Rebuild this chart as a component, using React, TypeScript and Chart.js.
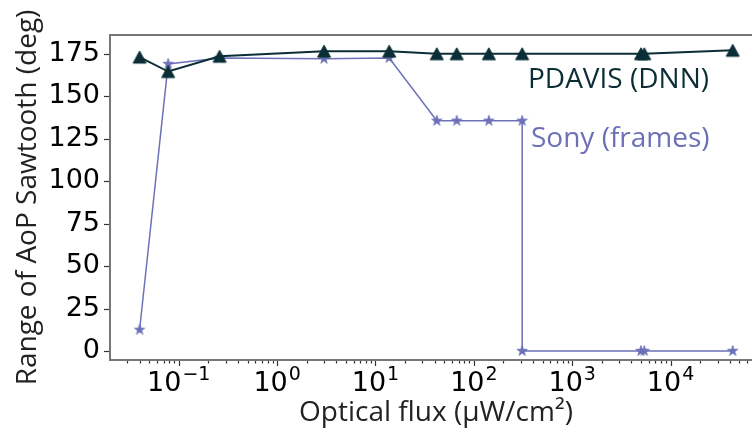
import { useEffect, useRef } from 'react';
import { Chart, registerables } from 'chart.js';

Chart.register(...registerables);

// ---- data ----
const seriesNames = ['PDAVIS (DNN)', 'Sony (frames)'];
const pdavisFlux = [0.04, 0.078, 0.26, 3, 13.8, 42, 67, 142, 310, 5000, 5400, 42800];
const pdavisRange = [173, 164.5, 173.5, 176.5, 176.5, 175, 175, 175, 175, 175, 175, 177];
const sonyFlux = [0.04, 0.078, 0.26, 3, 13.8, 42, 67, 142, 310, 310, 5000, 5400, 42800];
const sonyRange = [12.5, 169, 172.5, 172, 172.5, 135.5, 135.5, 135.5, 135.5, 0, 0, 0, 0];

const yTickValues = [0, 25, 50, 75, 100, 125, 150, 175];
const xMajorTicks = [0.1, 1, 10, 100, 1000, 10000];
const xTickBase = '10';
const xTickExponents = ['−1', '0', '1', '2', '3', '4'];
const xRange = [0.02, 85000];
const yRange = [-5.3, 186];

const xTitle = 'Optical flux (µW/cm²)';
const yTitle = 'Range of AoP Sawtooth (deg)';

const PDAVIS_COLOR = '#0b2e36';
const SONY_COLOR = '#6c70b7';

function minorTicks(): number[] {
  const out: number[] = [];
  for (let e = -2; e <= 4; e++) {
    const d = Math.pow(10, e);
    for (let k = 2; k <= 9; k++) {
      const v = k * d;
      if (v > xRange[0] && v < xRange[1]) out.push(v);
    }
  }
  return out;
}

function makeTriangle(color: string) {
  const c = document.createElement('canvas');
  c.width = 16;
  c.height = 16;
  const g = c.getContext('2d')!;
  g.beginPath();
  g.moveTo(8, 2);
  g.lineTo(14.5, 14);
  g.lineTo(1.5, 14);
  g.closePath();
  g.fillStyle = color;
  g.fill();
  g.strokeStyle = color;
  g.lineWidth = 1;
  g.stroke();
  return c;
}

function makeStar(color: string, R: number) {
  const c = document.createElement('canvas');
  c.width = 14;
  c.height = 14;
  const g = c.getContext('2d')!;
  g.beginPath();
  for (let i = 0; i < 10; i++) {
    const a = -Math.PI / 2 + (i * Math.PI) / 5;
    const r = i % 2 ? R * 0.382 : R;
    const px = 7 + r * Math.cos(a);
    const py = 7 + r * Math.sin(a);
    if (i === 0) g.moveTo(px, py);
    else g.lineTo(px, py);
  }
  g.closePath();
  g.fillStyle = color;
  g.fill();
  g.strokeStyle = color;
  g.lineWidth = 0.8;
  g.stroke();
  return c;
}

const isMajor = (v: number) => xMajorTicks.some((m) => Math.abs(m - v) / m < 1e-6);

const framePlugin = {
  id: 'frameTicksLabels',
  afterDatasetsDraw(chart: any) {
    const { ctx, chartArea: a, scales } = chart;
    ctx.save();
    // spines: left, top, bottom (the right one lies beyond the visible crop)
    ctx.strokeStyle = '#777777';
    ctx.lineWidth = 2;
    ctx.beginPath();
    ctx.moveTo(a.right, a.top);
    ctx.lineTo(a.left, a.top);
    ctx.lineTo(a.left, a.bottom);
    ctx.lineTo(a.right, a.bottom);
    ctx.stroke();
    // tick marks
    ctx.strokeStyle = '#333333';
    ctx.lineWidth = 1.2;
    for (const t of scales.x.ticks) {
      const px = Math.round(scales.x.getPixelForValue(t.value)) + 0.5;
      const len = isMajor(t.value) ? 5 : 2.5;
      ctx.beginPath();
      ctx.moveTo(px, a.bottom + 1);
      ctx.lineTo(px, a.bottom + 1 + len);
      ctx.stroke();
    }
    for (const t of scales.y.ticks) {
      const py = Math.round(scales.y.getPixelForValue(t.value)) + 0.5;
      ctx.beginPath();
      ctx.moveTo(a.left - 1, py);
      ctx.lineTo(a.left - 6, py);
      ctx.stroke();
    }
    // x tick labels: 10 with superscript exponent
    ctx.fillStyle = '#000';
    ctx.textBaseline = 'alphabetic';
    ctx.textAlign = 'left';
    const baseFont = '27px "DejaVu Sans"';
    const supFont = '19px "DejaVu Sans"';
    xMajorTicks.forEach((v, i) => {
      const px = scales.x.getPixelForValue(v);
      ctx.font = baseFont;
      const wb = ctx.measureText(xTickBase).width;
      ctx.font = supFont;
      const we = ctx.measureText(xTickExponents[i]).width;
      const x0 = px - (wb + we + 1) / 2;
      const baseY = a.bottom + 31;
      ctx.font = baseFont;
      ctx.fillText(xTickBase, x0, baseY);
      ctx.font = supFont;
      ctx.fillText(xTickExponents[i], x0 + wb + 1, baseY - 11.5);
    });
    // series labels
    ctx.font = '28px "Open Sans"';
    ctx.fillStyle = PDAVIS_COLOR;
    ctx.fillText(seriesNames[0], scales.x.getPixelForValue(355), scales.y.getPixelForValue(154.7));
    ctx.fillStyle = SONY_COLOR;
    ctx.fillText(seriesNames[1], scales.x.getPixelForValue(381), scales.y.getPixelForValue(120));
    ctx.restore();
  },
};

export default function App() {
  const ref = useRef<HTMLCanvasElement>(null);

  useEffect(() => {
    if (!ref.current) return;
    const tri = makeTriangle(PDAVIS_COLOR);
    const star = makeStar(SONY_COLOR, 5.5);
    const allXTicks = [...xMajorTicks, ...minorTicks()].sort((p, q) => p - q);

    const chart = new Chart(ref.current, {
      type: 'line',
      data: {
        datasets: [
          {
            label: seriesNames[0],
            data: pdavisFlux.map((x, i) => ({ x, y: pdavisRange[i] })),
            borderColor: PDAVIS_COLOR,
            backgroundColor: PDAVIS_COLOR,
            borderWidth: 2,
            pointStyle: tri as any,
            pointRadius: 7,
            tension: 0,
          },
          {
            label: seriesNames[1],
            data: sonyFlux.map((x, i) => ({ x, y: sonyRange[i] })),
            borderColor: SONY_COLOR,
            backgroundColor: SONY_COLOR,
            borderWidth: 1.5,
            pointStyle: star as any,
            pointRadius: 6,
            tension: 0,
          },
        ],
      },
      options: {
        responsive: false,
        animation: false,
        events: [],
        layout: { padding: { top: 35, right: 10, left: 0, bottom: 0 } },
        plugins: { legend: { display: false }, tooltip: { enabled: false } },
        scales: {
          x: {
            type: 'logarithmic',
            min: xRange[0],
            max: xRange[1],
            afterBuildTicks: (s: any) => {
              s.ticks = allXTicks.map((v) => ({ value: v }));
            },
            afterFit: (s: any) => {
              s.height = 70;
            },
            grid: { display: false, drawTicks: false },
            border: { display: false },
            ticks: { display: false, autoSkip: false, maxRotation: 0, minRotation: 0 },
            title: {
              display: true,
              text: xTitle,
              color: '#222',
              font: { family: 'Open Sans', size: 28 },
              padding: { top: 0, bottom: 0 },
            },
          },
          y: {
            type: 'linear',
            min: yRange[0],
            max: yRange[1],
            afterBuildTicks: (s: any) => {
              s.ticks = yTickValues.map((v) => ({ value: v }));
            },
            afterFit: (s: any) => {
              s.width = 110;
            },
            grid: { display: false, drawTicks: false },
            border: { display: false },
            ticks: {
              padding: 10,
              color: '#000',
              font: { family: 'DejaVu Sans', size: 27 },
              callback: (v: any) => String(v),
            },
            title: {
              display: true,
              text: yTitle,
              color: '#222',
              font: { family: 'Open Sans', size: 28 },
              padding: { top: 11, bottom: 0 },
            },
          },
        },
      },
      plugins: [framePlugin],
    });
    return () => chart.destroy();
  }, []);

  return (
    <div style={{ position: 'fixed', left: 0, top: 0, width: 752, height: 430, overflow: 'hidden', background: '#fff' }}>
      <canvas ref={ref} width={772} height={430} style={{ display: 'block' }} />
    </div>
  );
}
